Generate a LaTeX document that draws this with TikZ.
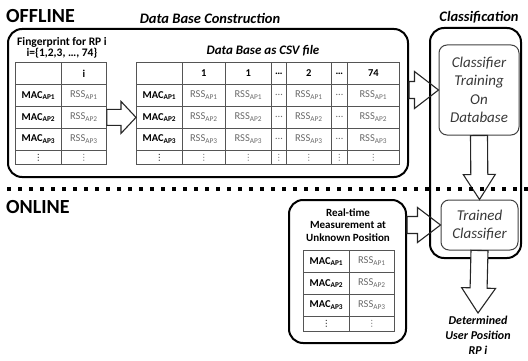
\documentclass[tikz,border=0pt]{standalone}
\usepackage{fontspec}
\setmainfont{Carlito}
\newfontfamily\symfont{DejaVu Sans}
\usepackage{tikz}
\usetikzlibrary{positioning, calc}
\definecolor{gridgray}{RGB}{85, 85, 85}
\definecolor{rssgray}{RGB}{105, 105, 105}
\definecolor{notegray}{RGB}{55, 55, 55}

\newcommand{\mac}[1]{\textbf{MAC\textsubscript{AP#1}}}
\newcommand{\rss}[1]{\textcolor{rssgray}{RSS\textsubscript{AP#1}}}
\newcommand{\gdots}{\textcolor{rssgray}{\dots}}
\newcommand{\tinydots}{{\symfont\fontsize{8.5}{9}\selectfont ⋮}}
% hollow block arrow: [options]{from}{to}{shaft half width}{head half width}{head length}
\newcommand{\blockarrow}[6][]{%
  \path (#2) coordinate (ba-s) (#3) coordinate (ba-e);
  \coordinate (ba-h) at ($(ba-e)!#6!(ba-s)$);
  \draw[hollow, #1] ($(ba-s)!#4!90:(ba-e)$) -- ($(ba-h)!#4!-90:(ba-s)$)
    -- ($(ba-h)!#5!-90:(ba-s)$) -- (ba-e) -- ($(ba-h)!#5!90:(ba-s)$)
    -- ($(ba-h)!#4!90:(ba-s)$) -- ($(ba-s)!#4!-90:(ba-e)$) -- cycle;}

\begin{document}
\begin{tikzpicture}[x=1pt, y=-1pt,
    bigbox/.style={draw=black, line width=2pt, rounded corners=14pt},
    innerbox/.style={draw=black!75, line width=1pt, rounded corners=8pt, align=center,
                     text=notegray, font=\itshape\fontsize{15}{18.5}\selectfont},
    cell/.style={draw=gridgray, line width=0.8pt, anchor=north west, inner sep=0pt,
                 minimum height=22pt, font=\fontsize{10.5}{12}\selectfont},
    hollow/.style={draw=black!85, line width=1.1pt, line join=miter}]
    \useasboundingbox (0,0) rectangle (528,361);

    % Titles
    \node[anchor=base west, font=\bfseries\fontsize{20}{24}\selectfont, inner sep=0pt] (offlbl) at (6,23) {OFFLINE};
    \node[anchor=base west, font=\bfseries\fontsize{20}{24}\selectfont, inner sep=0pt] (onlbl) at (6,213) {ONLINE};
    \node[anchor=base, font=\bfseries\itshape\fontsize{14.5}{17}\selectfont] (dbclbl) at (210,24) {Data Base Construction};
    \node[anchor=base, font=\bfseries\itshape\fontsize{14.5}{17}\selectfont] (clslbl) at (479,22) {Classification};

    % Boxes
    \node[bigbox, minimum width=400pt, minimum height=148pt] (offline) at (208,103) {};
    \node[bigbox, minimum width=91pt, minimum height=230pt] (classif) at (475.5,143) {};
    \node[innerbox, minimum width=80pt, minimum height=90pt] (train) at (479,90) {Classifier\\Training\\On\\Database};
    \node[innerbox, minimum width=77pt, minimum height=50pt] (trained) at (479.5,225) {Trained\\Classifier};
    \node[bigbox, minimum width=117pt, minimum height=143pt] (online) at (347.5,271.5) {};

    % Texts
    \node[align=center, font=\bfseries\fontsize{11.5}{11.5}\selectfont] (fplbl) at (62,48) {Fingerprint for RP i\\i=\{1,2,3, \dots, 74\}};
    \node[font=\bfseries\itshape\fontsize{13}{15}\selectfont] (csvlbl) at (263,51) {Data Base as CSV file};
    \node[align=center, font=\bfseries\fontsize{11}{12.5}\selectfont] (measlbl) at (348,225) {Real-time\\Measurement at\\Unknown Position};
    \node[anchor=north, align=center, font=\bfseries\itshape\fontsize{12}{15}\selectfont] (result) at (478,313) {Determined\\User Position\\RP i};

    % Fingerprint table
    \node[cell, minimum width=46pt] (fp-0-0) at (15,62) {};
    \node[cell, minimum width=45pt] (fp-0-1) at (61,62) {\textbf{i}};
    \foreach \r in {1,2,3} {
        \node[cell, minimum width=46pt] (fp-\r-0) at (15,62+22*\r) {\mac{\r}};
        \node[cell, minimum width=45pt] (fp-\r-1) at (61,62+22*\r) {\rss{\r}};
    }
    \node[cell, minimum width=46pt, minimum height=14pt] (fp-4-0) at (15,150) {\tinydots};
    \node[cell, minimum width=45pt, minimum height=14pt, text=rssgray] (fp-4-1) at (61,150) {\tinydots};

    % Data base table
    \foreach \c/\x/\w/\t in {0/136/46/{}, 1/182/43/1, 2/225/46/1, 3/271/15/\dots, 4/286/45/2, 5/331/16/\dots, 6/347/52/74}
        \node[cell, minimum width=\w pt] (db-0-\c) at (\x,62) {\textbf{\t}};
    \foreach \r in {1,2,3} {
        \node[cell, minimum width=46pt] (db-\r-0) at (136,62+22*\r) {\mac{\r}};
        \foreach \c/\x/\w in {1/182/43, 2/225/46, 4/286/45, 6/347/52}
            \node[cell, minimum width=\w pt] (db-\r-\c) at (\x,62+22*\r) {\rss{\r}};
        \foreach \c/\x/\w in {3/271/15, 5/331/16}
            \node[cell, minimum width=\w pt] (db-\r-\c) at (\x,62+22*\r) {\gdots};
    }
    \node[cell, minimum width=46pt, minimum height=14pt] (db-4-0) at (136,150) {\tinydots};
    \foreach \c/\x/\w in {1/182/43, 2/225/46, 3/271/15, 4/286/45, 5/331/16, 6/347/52}
        \node[cell, minimum width=\w pt, minimum height=14pt, text=rssgray] (db-4-\c) at (\x,150) {\tinydots};

    % Measurement table
    \foreach \r in {0,1,2} {
        \node[cell, minimum width=46pt] (ms-\r-0) at (303,250+22*\r) {\mac{\the\numexpr\r+1\relax}};
        \node[cell, minimum width=45pt] (ms-\r-1) at (349,250+22*\r) {\rss{\the\numexpr\r+1\relax}};
    }
    \node[cell, minimum width=46pt, minimum height=15pt] (ms-3-0) at (303,316) {\tinydots};
    \node[cell, minimum width=45pt, minimum height=15pt, text=rssgray] (ms-3-1) at (349,316) {\tinydots};

    % Arrows
    \blockarrow{fp-2-1.east}{db-2-0.west}{8pt}{16pt}{15pt}
    \blockarrow{offline.east |- train.west}{train.west}{8.5pt}{18.5pt}{24pt}
    \blockarrow{online.east |- trained.west}{trained.west}{8.5pt}{17.5pt}{23pt}
    \blockarrow{train.south}{trained.north}{8.5pt}{16pt}{25pt}
    \blockarrow[fill=white]{trained.south}{result.north}{8.5pt}{17pt}{25pt}

    % Separator
    \coordinate (sepl) at (7,189);
    \coordinate (sepr) at (528,189);
    \draw[line width=4pt, dash pattern=on 4pt off 7pt] (sepl) -- (sepr);
\end{tikzpicture}
\end{document}
